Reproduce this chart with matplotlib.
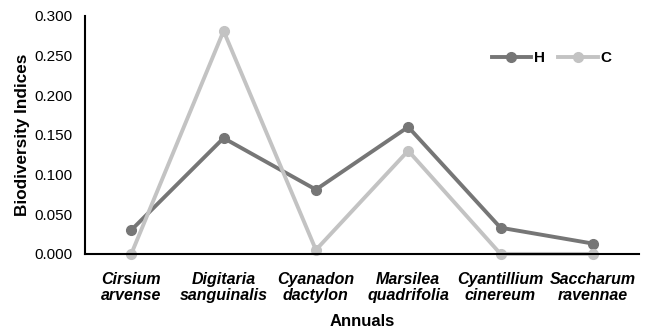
import matplotlib.pyplot as plt

plt.rcParams["font.family"] = ["Liberation Sans", "DejaVu Sans"]

species = ["Cirsium\narvense", "Digitaria\nsanguinalis", "Cyanadon\ndactylon",
           "Marsilea\nquadrifolia", "Cyantillium\ncinereum", "Saccharum\nravennae"]
h_vals = [0.030, 0.146, 0.081, 0.160, 0.033, 0.013]
c_vals = [0.000, 0.281, 0.005, 0.130, 0.000, 0.000]
yticks = [0.0, 0.05, 0.10, 0.15, 0.20, 0.25, 0.30]

fig = plt.figure(figsize=(6.5, 3.31), dpi=100)
ax = fig.add_axes([0.131, 0.233, 0.852, 0.719])

x = range(len(species))
ax.plot(x, h_vals, color="#767676", lw=2.8, marker="o", ms=7, label="H")
ax.plot(x, c_vals, color="#c3c3c3", lw=2.8, marker="o", ms=7, label="C")

ax.set_xlim(-0.5, len(species) - 0.5)
ax.set_ylim(0, 0.3)
ax.set_yticks(yticks)
ax.set_yticklabels([f"{v:.3f}" for v in yticks], fontsize=11)
ax.set_xticks(list(x))
ax.set_xticklabels(species, fontsize=11.5, fontweight="bold", fontstyle="italic", linespacing=1.05)
ax.tick_params(axis="y", length=0, pad=9)
ax.tick_params(axis="x", length=0, pad=13)
for s in ("top", "right"):
    ax.spines[s].set_visible(False)
for s in ("left", "bottom"):
    ax.spines[s].set_linewidth(1.5)
    ax.spines[s].set_color("black")
for ln in ax.lines:
    ln.set_clip_on(False)

ax.set_xlabel("Annuals", fontsize=12, fontweight="bold", labelpad=8)
ax.set_ylabel("Biodiversity Indices", fontsize=12.3, fontweight="bold", labelpad=3)

ax.legend(loc="upper right", bbox_to_anchor=(0.975, 0.91), ncol=2, frameon=False,
          handlelength=2.6, columnspacing=0.9, handletextpad=0.15,
          prop={"weight": "bold", "size": 11})

fig.savefig("out.png", dpi=100)
